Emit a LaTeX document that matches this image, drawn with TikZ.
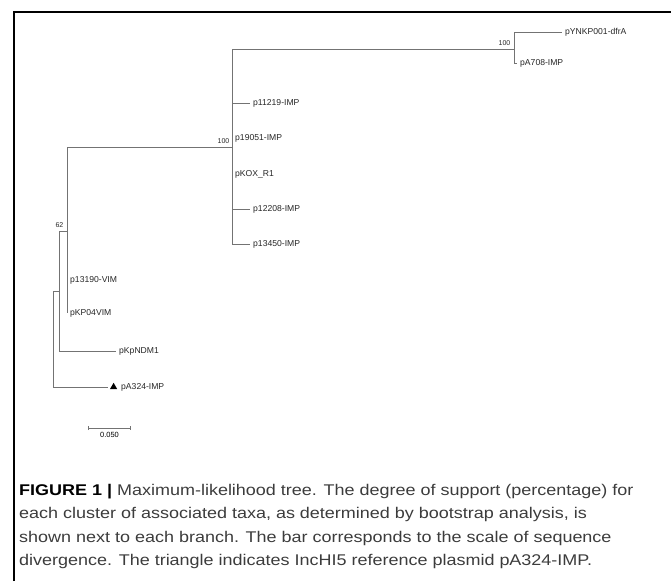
\documentclass[tikz,border=0pt]{standalone}
\usepackage{fontspec}
\setmainfont{Liberation Sans}
\newfontfamily\captionfont{Liberation Sans}[FakeStretch=1.16]
\usepackage{xcolor}
\definecolor{branchgray}{RGB}{115,115,115}
\definecolor{captiongray}{RGB}{60,60,60}
\usetikzlibrary{shapes.geometric, arrows.meta, positioning}

\begin{document}
\begin{tikzpicture}[
    x=1pt, y=-1pt,
    branch/.style={
      draw=branchgray,
      line width=0.8pt
    },
    taxon/.style={
      anchor=west,
      inner xsep=3pt,
      inner ysep=0pt,
      font=\fontsize{8.6}{10}\selectfont,
      text=black!85
    },
    support/.style={
      anchor=south east,
      inner sep=0pt,
      font=\fontsize{7}{8}\selectfont,
      text=black!85
    },
    marker/.style={
      regular polygon,
      regular polygon sides=3,
      fill=black,
      inner sep=0pt,
      outer sep=2.5pt,
      minimum size=8.4pt
    },
    scalebar/.style={
      draw=branchgray,
      line width=0.8pt,
      {Bar[width=4pt]}-{Bar[width=4pt]}
    },
    caption/.style={
      anchor=north west,
      inner sep=0pt,
      align=left,
      font=\captionfont\fontsize{15.5}{23.5}\selectfont,
      text=captiongray
    }
  ]

    \useasboundingbox (0,0) rectangle (671,581);

    % Frame
    \draw[line width=1.3pt] (14,581) -- (14,12) -- (671,12);

    % Internal nodes
    \coordinate (root) at (53,339);
    \coordinate (n62)  at (59,291);
    \coordinate (nvim) at (67,231);
    \coordinate (nimp) at (232,147);
    \coordinate (ntop) at (514,49);

    % Taxa
    \node (pYNKP)  [taxon] at (562,32)  {pYNKP001-dfrA};
    \node (pA708)  [taxon] at (517,63)  {pA708-IMP};
    \node (p11219) [taxon] at (250,103) {p11219-IMP};
    \node (p19051) [taxon] at (232,138) {p19051-IMP};
    \node (pKOX)   [taxon] at (232,174) {pKOX\_R1};
    \node (p12208) [taxon] at (250,209) {p12208-IMP};
    \node (p13450) [taxon] at (250,244) {p13450-IMP};
    \node (p13190) [taxon] at (67,280)  {p13190-VIM};
    \node (pKP04)  [taxon] at (67,313)  {pKP04VIM};
    \node (pKpNDM) [taxon] at (116,351) {pKpNDM1};
    \node (mA324)  [marker] at (113.6,387) {};
    \node (pA324)  [taxon] at (118,387) {pA324-IMP};

    % Bootstrap values
    \node (bstop) [support] at ([xshift=-3.5pt,yshift=3.5pt]ntop) {100};
    \node (bsimp) [support] at ([xshift=-2.5pt,yshift=3.5pt]nimp) {100};
    \node (bsvim) [support] at ([xshift=-3.5pt,yshift=3.5pt]nvim) {62};

    % Branches
    \draw[branch] (root) |- (n62);
    \draw[branch] (root) |- (mA324);
    \draw[branch] (n62) |- (nvim);
    \draw[branch] (n62) |- (pKpNDM);
    \draw[branch] (nvim) |- (nimp);
    \draw[branch] (nvim) |- (p13190);
    \draw[branch] (nvim) |- (pKP04);
    \draw[branch] (nimp) |- (ntop);
    \draw[branch] (nimp) |- (p11219);
    \draw[branch] (nimp) |- (p19051);
    \draw[branch] (nimp) |- (pKOX);
    \draw[branch] (nimp) |- (p12208);
    \draw[branch] (nimp) |- (p13450);
    \draw[branch] (ntop) |- (pYNKP);
    \draw[branch] (ntop) |- (pA708);

    % Scale bar
    \coordinate (sbleft)  at (88,428);
    \coordinate (sbright) at (131,428);
    \draw[scalebar] (sbleft) -- node[below=4pt, inner sep=0pt, font=\fontsize{7.5}{9}\selectfont] (sblabel) {0.050} (sbright);

    % Caption
    \node (caption) [caption] at (19,484) {\textbf{\color{black}FIGURE 1 |} Maximum-likelihood tree. The degree of support (percentage) for\\
      each cluster of associated taxa, as determined by bootstrap analysis, is\\
      shown next to each branch. The bar corresponds to the scale of sequence\\
      divergence. The triangle indicates IncHI5 reference plasmid pA324-IMP.};

  \end{tikzpicture}
\end{document}
